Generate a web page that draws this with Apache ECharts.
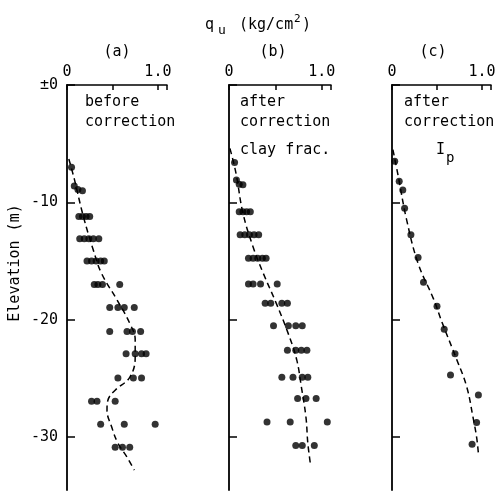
<!DOCTYPE html>
<html><head><meta charset="utf-8">
<script src="https://cdn.jsdelivr.net/npm/echarts@6/dist/echarts.min.js"></script>
<style>html,body{margin:0;padding:0;background:#fff}#c{width:504px;height:491px}</style>
</head><body><div id="c"></div>
<script>
// Panel (a): before correction  [qu, elevation]
var pointsA = [
 [0.05,-7.0],
 [0.08,-8.6],[0.12,-8.9],[0.17,-9.0],
 [0.13,-11.2],[0.17,-11.2],[0.21,-11.2],[0.25,-11.2],
 [0.14,-13.1],[0.19,-13.1],[0.24,-13.1],[0.29,-13.1],[0.35,-13.1],
 [0.22,-15.0],[0.27,-15.0],[0.32,-15.0],[0.37,-15.0],[0.41,-15.0],
 [0.30,-17.0],[0.34,-17.0],[0.39,-17.0],[0.58,-17.0],
 [0.47,-18.95],[0.56,-18.95],[0.63,-18.95],[0.74,-18.95],
 [0.47,-21.0],[0.66,-21.0],[0.72,-21.0],[0.81,-21.0],
 [0.65,-22.9],[0.75,-22.9],[0.82,-22.9],[0.87,-22.9],
 [0.56,-24.95],[0.73,-24.95],[0.82,-24.95],
 [0.27,-26.95],[0.33,-26.95],[0.53,-26.95],
 [0.37,-28.9],[0.63,-28.9],[0.97,-28.9],
 [0.53,-30.85],[0.61,-30.85],[0.69,-30.85]
];
var lineA = [[0.02,-6.3],[0.08,-8.0],[0.18,-11.2],[0.29,-14.07],[0.38,-16.05],[0.55,-18.3],[0.69,-20.3],[0.75,-21.7],[0.75,-23.2],[0.69,-24.9],[0.53,-26.0],[0.45,-26.85],[0.44,-27.7],[0.49,-29.1],[0.56,-30.5],[0.66,-31.7],[0.74,-32.8]];

// Panel (b): after correction, clay frac.
var pointsB = [
 [0.06,-6.6],
 [0.08,-8.1],[0.11,-8.45],[0.15,-8.5],
 [0.11,-10.8],[0.15,-10.8],[0.19,-10.8],[0.23,-10.8],
 [0.12,-12.75],[0.17,-12.75],[0.22,-12.75],[0.27,-12.75],[0.32,-12.75],
 [0.21,-14.75],[0.26,-14.75],[0.31,-14.75],[0.36,-14.75],[0.40,-14.75],
 [0.21,-16.95],[0.26,-16.95],[0.34,-16.95],[0.52,-16.95],
 [0.39,-18.6],[0.45,-18.6],[0.57,-18.6],[0.63,-18.6],
 [0.48,-20.5],[0.64,-20.5],[0.72,-20.5],[0.79,-20.5],
 [0.63,-22.6],[0.72,-22.6],[0.78,-22.6],[0.84,-22.6],
 [0.57,-24.9],[0.69,-24.9],[0.79,-24.9],[0.85,-24.9],
 [0.74,-26.7],[0.83,-26.7],[0.94,-26.7],
 [0.41,-28.7],[0.66,-28.7],[1.06,-28.7],
 [0.72,-30.7],[0.79,-30.7],[0.92,-30.7]
];
var lineB = [[0.01,-5.4],[0.075,-7.5],[0.15,-10.9],[0.26,-13.8],[0.37,-16.05],[0.51,-18.6],[0.64,-21.2],[0.73,-23.4],[0.78,-25.7],[0.83,-28.3],[0.85,-30.5],[0.88,-32.4]];

// Panel (c): after correction, Ip
var pointsC = [[0.03,-6.5],[0.08,-8.2],[0.12,-8.95],[0.14,-10.5],[0.21,-12.75],[0.29,-14.7],[0.35,-16.8],[0.50,-18.85],[0.58,-20.8],[0.70,-22.9],[0.65,-24.7],[0.96,-26.4],[0.94,-28.75],[0.89,-30.6]];
var lineC = [[0.01,-5.5],[0.07,-7.8],[0.16,-11.4],[0.29,-15.2],[0.46,-18.2],[0.56,-20.3],[0.72,-23.4],[0.83,-25.7],[0.90,-28.3],[0.94,-30.0],[0.96,-31.4]];

var xTickLabels = {0:'0', 1:'1.0'};
var yTickValues = [0, 10, 20, 30];
var yTickLabels = {0:'±0', 10:'-10', 20:'-20', 30:'-30'};

var FONT = 'DejaVu Sans Mono';
var INK = '#000';
var chart = echarts.init(document.getElementById('c'));

// depth axis (inverted) = -elevation, so ticks start at 0 with interval 10
function toDepth(arr){ return arr.map(function(p){ return [p[0], -p[1]]; }); }

var grids = [
  {left:67, top:85, width:100, height:405},
  {left:229, top:85, width:102, height:405},
  {left:392, top:85, width:99, height:405}
];
var xAxes = [], yAxes = [], series = [];
var pts = [pointsA, pointsB, pointsC], lns = [lineA, lineB, lineC];
for (var i = 0; i < 3; i++) {
  xAxes.push({
    type:'value', gridIndex:i, position:'top', min:0, max:1.1, interval:0.5,
    axisLine:{show:true, lineStyle:{color:INK, width:1.5}},
    axisTick:{show:true, inside:true, length:5, lineStyle:{color:INK, width:1.5}},
    splitLine:{show:false},
    axisLabel:{show:true, margin:5, color:INK, fontFamily:FONT, fontSize:15,
      formatter:function(v){ var k = Math.round(v*10)/10; return xTickLabels[k] !== undefined ? xTickLabels[k] : ''; }}
  });
  yAxes.push({
    type:'value', gridIndex:i, min:0, max:34.5, interval:10, inverse:true,
    axisLine:{show:true, lineStyle:{color:INK, width:1.8}},
    axisTick:{show:true, inside:true, length:8, customValues:yTickValues, lineStyle:{color:INK, width:1.5}},
    splitLine:{show:false},
    axisLabel:{show:i===0, margin:9, color:INK, fontFamily:FONT, fontSize:15, customValues:yTickValues,
      formatter:function(v){ var k = Math.round(v); return yTickLabels[k] !== undefined ? yTickLabels[k] : ''; }}
  });
  series.push({
    type:'line', xAxisIndex:i, yAxisIndex:i, data:toDepth(lns[i]), smooth:0.4, symbol:'none',
    lineStyle:{color:INK, width:1.5, type:[6,4]}, z:2, silent:true
  });
  series.push({
    type:'scatter', xAxisIndex:i, yAxisIndex:i, data:toDepth(pts[i]), symbol:'circle', symbolSize:7,
    itemStyle:{color:INK}, z:3, silent:true
  });
}

function txt(x, y, s, opts) {
  opts = opts || {};
  return {type:'text', x:x, y:y, rotation:opts.rot||0, style:{text:s, fill:INK,
    font:(opts.size||15)+'px "'+FONT+'"', textAlign:opts.align||'left', textVerticalAlign:'middle'}};
}

chart.setOption({
  animation:false,
  grid:grids, xAxis:xAxes, yAxis:yAxes, series:series,
  graphic:[
    txt(205, 25, 'q'),
    txt(218, 31, 'u', {size:13}),
    txt(239, 25, '(kg/cm'),
    txt(294, 19, '2', {size:11}),
    txt(302, 25, ')'),
    txt(117, 52, '(a)', {align:'center'}),
    txt(273, 52, '(b)', {align:'center'}),
    txt(433, 52, '(c)', {align:'center'}),
    txt(85, 102, 'before'),
    txt(85, 122, 'correction'),
    txt(240, 102, 'after'),
    txt(240, 122, 'correction'),
    txt(240, 150, 'clay frac.'),
    txt(404, 102, 'after'),
    txt(404, 122, 'correction'),
    txt(436, 150, 'I'),
    txt(446, 158, 'p', {size:14}),
    txt(15, 263, 'Elevation (m)', {align:'center', rot:Math.PI/2})
  ]
});
</script></body></html>
